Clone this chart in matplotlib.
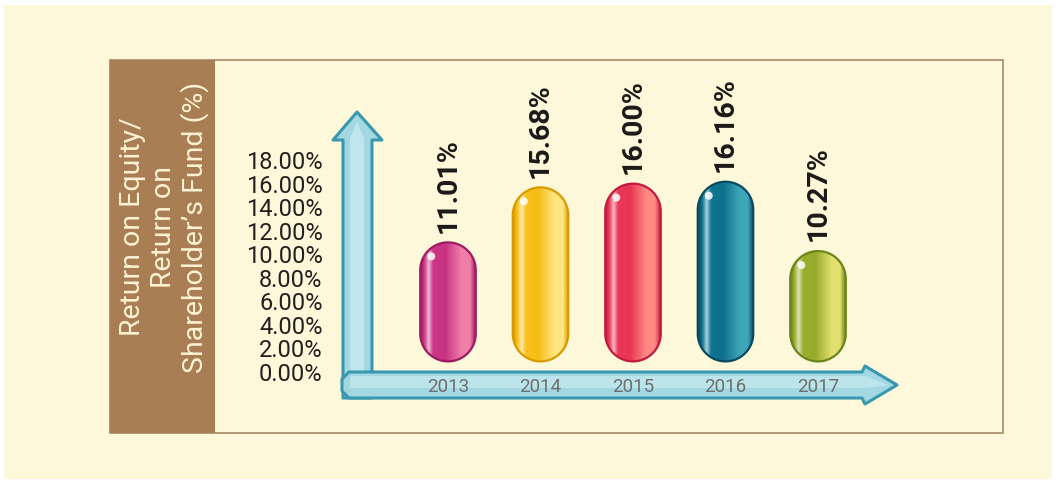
import numpy as np
import matplotlib
matplotlib.use("Agg")
import matplotlib.pyplot as plt
from matplotlib.patches import Rectangle, Polygon, Ellipse
from matplotlib.colors import to_rgb

plt.rcParams['font.family'] = ['Roboto', 'DejaVu Sans']

# ---- data ----
years = ["2013", "2014", "2015", "2016", "2017"]
roe = [11.01, 15.68, 16.00, 16.16, 10.27]
y_ticks = [0, 2, 4, 6, 8, 10, 12, 14, 16, 18]
y_title = "Return on Equity/\nReturn on\nShareholder\u2019s Fund (%)"
# (dark edge, body, light side) per capsule
pill_colors = [
    ("#9C1C60", "#CC3586", "#F07FA8"),
    ("#D99A00", "#F8C21A", "#FFE680"),
    ("#C11B40", "#EC3857", "#FF8A84"),
    ("#0A4A60", "#0F7590", "#3FA6B8"),
    ("#6A861A", "#9BAE2C", "#E2E06E"),
]

W, H = 1056, 484
CREAM = "#FEF8DB"
fig = plt.figure(figsize=(W / 100, H / 100), dpi=100, facecolor="white")

# ---- decoration layer in pixel coordinates ----
bg = fig.add_axes([0, 0, 1, 1], zorder=-1)
bg.set_xlim(0, W)
bg.set_ylim(H, 0)
bg.axis("off")

bg.add_patch(Rectangle((4, 5), W - 8, H - 10, fc=CREAM, ec="none"))
bg.add_patch(Rectangle((110, 60), 893, 373, fc="none", ec="#AD9272", lw=1.3))
bg.add_patch(Rectangle((110, 60), 105, 373, fc="#A97E55", ec="none"))
bg.text(164, 227, y_title, rotation=90, ha="center", va="center",
        multialignment="center", color="#FDF3D2", fontsize=20.5,
        linespacing=1.15)

# floor shading behind the capsules
floor = Polygon([(373, 372), (895, 385), (998, 288), (496, 288)],
                closed=True, fc="none", ec="none")
bg.add_patch(floor)
ny = 100
tan = np.array(to_rgb("#E3BE9E"))
cr = np.array(to_rgb(CREAM))
fade = np.linspace(0, 1, ny)[:, None] ** 0.9
grad = (tan * (1 - fade) + cr * fade)[:, None, :].repeat(2, axis=1)
im = bg.imshow(grad, extent=(373, 998, 388, 288), origin="lower",
               aspect="auto", interpolation="bilinear")
im.set_clip_path(floor)

ARROW_FC = "#A3D8E2"
ARROW_EC = "#3898AE"
# vertical axis arrow
v_arrow = [(343, 398), (343, 140), (333, 140), (357, 112), (382, 140),
           (372, 140), (372, 398)]
bg.add_patch(Polygon(v_arrow, closed=True, fc=ARROW_FC, ec=ARROW_EC, lw=2.2,
                     joinstyle="round"))
bg.add_patch(Polygon([(350, 392), (350, 138), (357, 122), (364, 138), (364, 392)],
                     closed=True, fc="#C9ECF1", ec="none", alpha=0.75))
# horizontal axis arrow
h_arrow = [(349, 372), (862, 372), (865, 366), (897, 385), (865, 404),
           (862, 398), (349, 398), (342, 391), (342, 379)]
bg.add_patch(Polygon(h_arrow, closed=True, fc=ARROW_FC, ec=ARROW_EC, lw=2.2,
                     joinstyle="round"))
bg.add_patch(Polygon([(350, 376), (866, 376), (888, 385), (866, 388), (350, 388)],
                     closed=True, fc="#C9ECF1", ec="none", alpha=0.65))

# ---- data axes ----
px_x0, px_x1 = 342, 1000
px_y0, px_y1 = 372, 60
x_step_px = 92.5
x_first_px = 448
xl = (px_x0 - x_first_px) / x_step_px
xr = (px_x1 - x_first_px) / x_step_px
ytop = 26.5

ax = fig.add_axes([px_x0 / W, 1 - px_y0 / H, (px_x1 - px_x0) / W, (px_y0 - px_y1) / H])
ax.patch.set_alpha(0)
for s in ax.spines.values():
    s.set_visible(False)

xs = np.arange(len(years))
ax.set_yticks(y_ticks)
ax.set_yticklabels([f"{v:.2f}%" for v in y_ticks], fontsize=17, color="#231F1C")
ax.set_xticks(xs)
ax.set_xticklabels(years, fontsize=13.5, color="#6E6E6E")
ax.tick_params(axis="y", length=0, pad=14)
ax.tick_params(axis="x", length=0, pad=4)

pill_w = 0.6
base = 0.9
x_per_px = (xr - xl) / (px_x1 - px_x0)
y_per_px = ytop / (px_y0 - px_y1)
rx = pill_w / 2
ry = rx / x_per_px * y_per_px   # semicircular ends in screen space


def capsule(xc, y0, y1, n=40):
    th_top = np.linspace(0, np.pi, n)
    th_bot = np.linspace(np.pi, 2 * np.pi, n)
    top = np.column_stack([xc + rx * np.cos(th_top), y1 - ry + ry * np.sin(th_top)])
    bot = np.column_stack([xc + rx * np.cos(th_bot), y0 + ry + ry * np.sin(th_bot)])
    return np.vstack([top, bot])


def pill_gradient(dark, body, light, n=64):
    d, b, l = (np.array(to_rgb(c)) for c in (dark, body, light))
    white = np.ones(3)
    stops = [
        (0.00, d), (0.07, b), (0.15, b * 0.35 + white * 0.65), (0.23, b),
        (0.45, b * 0.9 + d * 0.1), (0.75, l), (0.90, l), (1.00, d),
    ]
    t = np.linspace(0, 1, n)
    pos = [s[0] for s in stops]
    row = np.stack([np.interp(t, pos, [s[1][k] for s in stops]) for k in range(3)], axis=1)
    return row[None, :, :].repeat(4, axis=0)


for xi, v, (dk, bd, lt) in zip(xs, roe, pill_colors):
    x0 = xi - rx
    shape = Polygon(capsule(xi, base, v), closed=True, fc="none", ec=dk,
                    lw=1.6, zorder=3.2)
    ax.add_patch(shape)
    img = ax.imshow(pill_gradient(dk, bd, lt), extent=(x0, x0 + pill_w, base, v),
                    origin="lower", aspect="auto", interpolation="bilinear", zorder=3)
    img.set_clip_path(shape)
    # specular spot near the top-left
    ax.add_patch(Ellipse((x0 + pill_w * 0.2, v - 14 * y_per_px), pill_w * 0.14,
                         8 * y_per_px, fc="white", ec="none", alpha=0.85, zorder=3.3))
    ax.annotate(f"{v:.2f}%", (xi, v), xytext=(0, 7), textcoords="offset points",
                rotation=90, ha="center", va="bottom", fontsize=20.5,
                fontweight="bold", color="#1C1A18", zorder=4)

ax.set_xlim(xl, xr)
ax.set_ylim(0, ytop)

fig.savefig("out.png", dpi=100, facecolor="white")
